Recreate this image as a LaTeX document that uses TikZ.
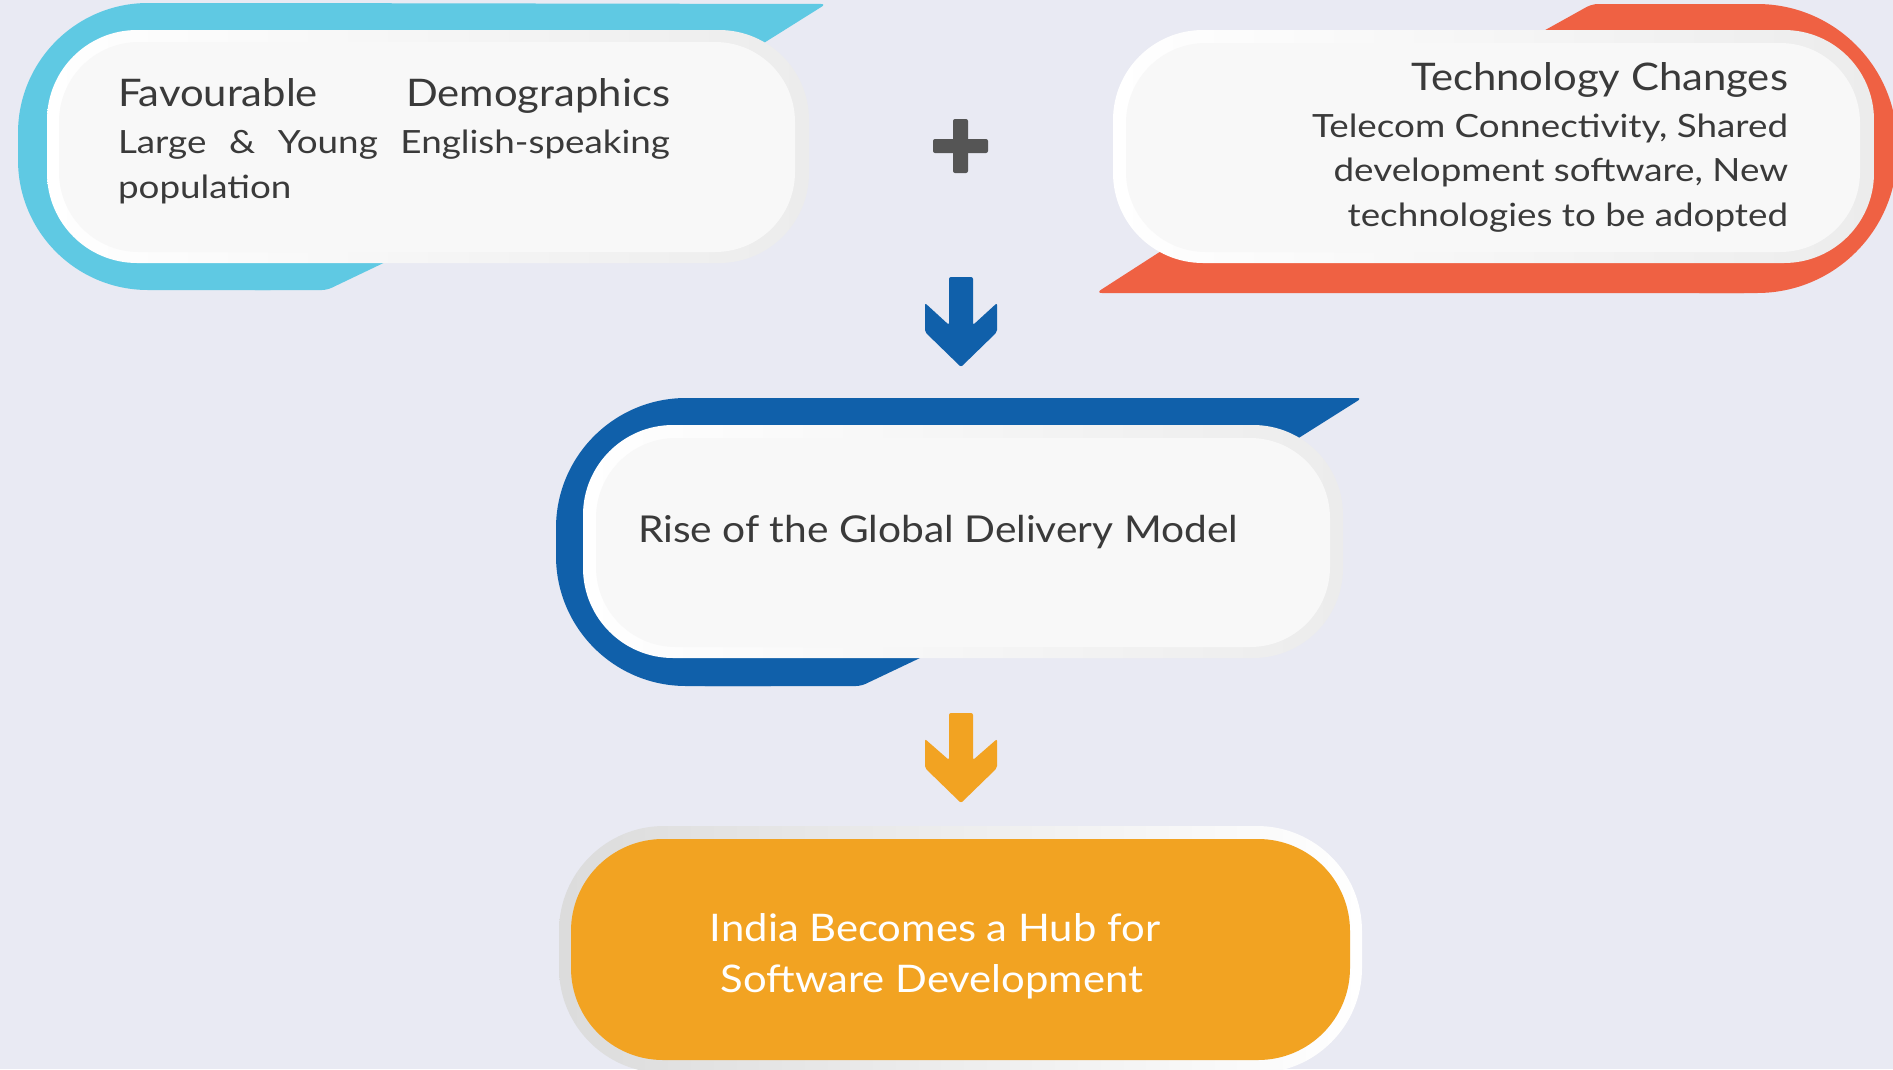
\documentclass[tikz,border=0pt]{standalone}
\usepackage{fontspec}
\setmainfont{Lato}[FakeStretch=1.10]
\newfontfamily\bodyfont{Lato}[FakeStretch=1.15]
\definecolor{bg}{RGB}{233,234,243}
\definecolor{cyanc}{RGB}{95,201,227}
\definecolor{redc}{RGB}{239,97,67}
\definecolor{bluec}{RGB}{16,96,170}
\definecolor{orangec}{RGB}{242,163,34}
\definecolor{plusc}{RGB}{85,85,85}
\definecolor{txt}{RGB}{58,58,58}
\definecolor{face}{RGB}{248,248,248}
\definecolor{rim}{RGB}{236,236,236}
\tikzset{
  lbl/.style={inner sep=0pt, outer sep=0pt, text=txt},
  ttl/.style={lbl, font=\fontsize{38}{46}\selectfont},
  body/.style={lbl, font=\bodyfont\fontsize{32}{44}\selectfont},
  card/.style={rounded corners=90pt},
  cardface/.style={rounded corners=80pt, fill=face},
  tipround/.style={rounded corners=5pt},
}
\begin{document}
\begin{tikzpicture}[x=1pt,y=-1pt]
\useasboundingbox (0,0) rectangle (1893,1069);
\fill[bg] (0,0) rectangle (1893,1069);

% ---------- Box 1 (cyan) ----------
\fill[cyanc, rounded corners=130pt] (18,3) rectangle (400,290);
\fill[cyanc, tipround] (250,3) -- (826,4) -- (700,83) -- (440,236) -- (327,290) -- (250,290) -- cycle;
\shade[card, left color=white, right color=rim] (47,30) rectangle (809,263);
\fill[cardface] (59,42) rectangle (795,252);
\node[ttl, anchor=base west] (t1a) at (118,106) {\makebox[552pt][s]{Favourable Demographics}};
\node[body, anchor=base west] (t1b) at (118,153) {\makebox[552pt][s]{Large \& Young English-speaking}};
\node[body, anchor=base west] (t1c) at (118,198) {population};

% ---------- Box 2 (red) ----------
\fill[redc, rounded corners=140pt] (1560,4) rectangle (1897,293);
\fill[redc, rounded corners=6pt] (1592,4) -- (1750,4) -- (1750,293) -- (1096,293) -- (1200,226) -- (1450,83) -- cycle;
\shade[card, left color=white, right color=rim] (1113,30) rectangle (1874,263);
\fill[cardface] (1126,43) rectangle (1860,252);
\node[ttl, anchor=base east] (t2a) at (1788,90) {Technology Changes};
\node[body, anchor=base east] (t2b) at (1788,137) {Telecom Connectivity, Shared};
\node[body, anchor=base east] (t2c) at (1788,181) {development software, New};
\node[body, anchor=base east] (t2d) at (1788,226) {technologies to be adopted};

% ---------- plus ----------
\fill[plusc, rounded corners=2pt] (953,119) rectangle (968,173);
\fill[plusc, rounded corners=2pt] (933,139) rectangle (988,153);

% ---------- blue arrow ----------
\fill[bluec, rounded corners=2pt] (949,277) -- (973,277) -- (973,325) -- (997,303) -- (997,332) -- (961,367) -- (925,332) -- (925,303) -- (949,325) -- cycle;

% ---------- Box 3 (blue) ----------
\fill[bluec, rounded corners=130pt] (556,398) rectangle (900,686);
\fill[bluec, tipround] (700,398) -- (1362,398) -- (1240,475) -- (960,639) -- (861,686) -- (700,686) -- cycle;
\shade[card, left color=white, right color=rim] (583,425) rectangle (1343,658);
\fill[cardface] (596,438) rectangle (1330,647);
\node[lbl, font=\fontsize{37}{44}\selectfont, anchor=base west] (t3) at (638,542) {Rise of the Global Delivery Model};

% ---------- orange arrow ----------
\fill[orangec, rounded corners=2pt] (949,713) -- (973,713) -- (973,760) -- (997,739) -- (997,768) -- (961,803) -- (925,768) -- (925,739) -- (949,760) -- cycle;

% ---------- Box 4 (orange) ----------
\shade[rounded corners=105pt, left color=rim!85!gray, right color=white] (559,826) rectangle (1362,1073);
\fill[orangec, rounded corners=92pt] (571,839) rectangle (1350,1060);
\node[lbl, text=white, font=\fontsize{38}{46}\selectfont, anchor=base] (t4a) at (935,941) {India Becomes a Hub for};
\node[lbl, text=white, font=\fontsize{38}{46}\selectfont, anchor=base] (t4b) at (932,992) {Software Development};
\end{tikzpicture}
\end{document}
